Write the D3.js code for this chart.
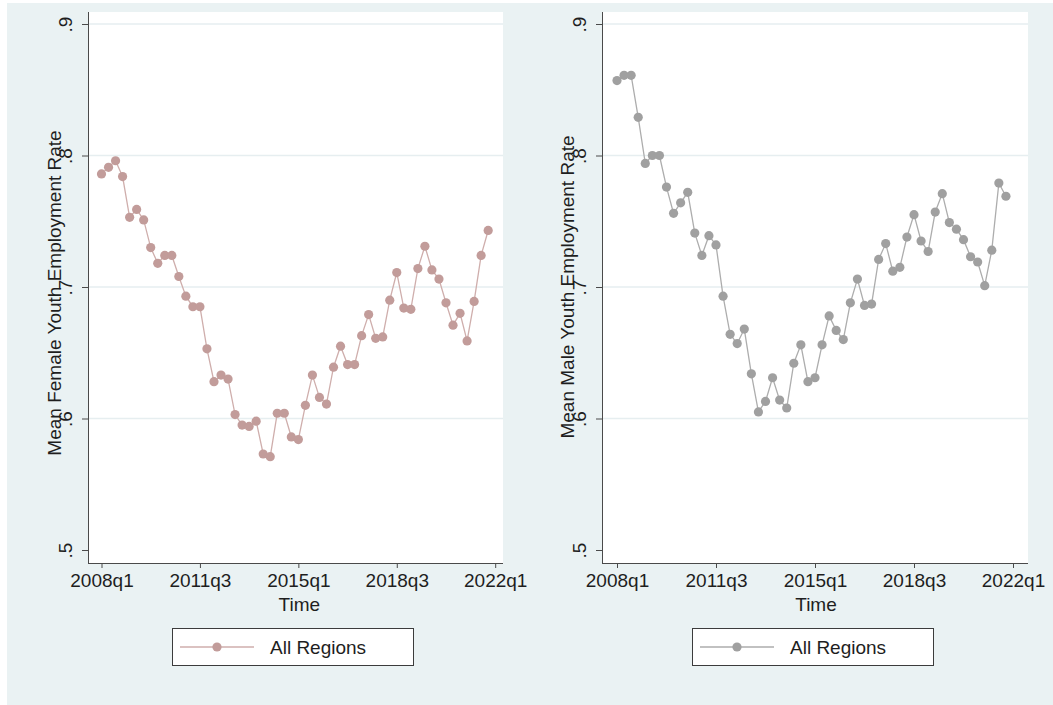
<!DOCTYPE html>
<html>
<head>
<meta charset="utf-8">
<script src="https://cdn.jsdelivr.net/npm/d3@7"></script>
<style>
  html, body { margin: 0; padding: 0; background: #ffffff; }
  svg { display: block; font-family: "Liberation Sans", Arial, sans-serif; }
</style>
</head>
<body>
<script>
// quarterly time index (Stata %tq: 2008q1 = 192)
var firstQuarter = 192;
var xTickValues = [192, 206, 220, 234, 248];
var xTickLabels = ["2008q1", "2011q3", "2015q1", "2018q3", "2022q1"];
var yTickValues = [0.5, 0.6, 0.7, 0.8, 0.9];
var yTickLabels = [".5", ".6", ".7", ".8", ".9"];
var legendLabel = "All Regions";

// mean female youth employment rate, 2008q1 - 2021q4
var femaleRate = [
  0.786, 0.791, 0.796, 0.784, 0.753, 0.759, 0.751, 0.730, 0.718, 0.724,
  0.724, 0.708, 0.693, 0.685, 0.685, 0.653, 0.628, 0.633, 0.630, 0.603,
  0.595, 0.594, 0.598, 0.573, 0.571, 0.604, 0.604, 0.586, 0.584, 0.610,
  0.633, 0.616, 0.611, 0.639, 0.655, 0.641, 0.641, 0.663, 0.679, 0.661,
  0.662, 0.690, 0.711, 0.684, 0.683, 0.714, 0.731, 0.713, 0.706, 0.688,
  0.671, 0.680, 0.659, 0.689, 0.724, 0.743
];

// mean male youth employment rate, 2008q1 - 2021q4
var maleRate = [
  0.857, 0.861, 0.861, 0.829, 0.794, 0.800, 0.800, 0.776, 0.756, 0.764,
  0.772, 0.741, 0.724, 0.739, 0.732, 0.693, 0.664, 0.657, 0.668, 0.634,
  0.605, 0.613, 0.631, 0.614, 0.608, 0.642, 0.656, 0.628, 0.631, 0.656,
  0.678, 0.667, 0.660, 0.688, 0.706, 0.686, 0.687, 0.721, 0.733, 0.712,
  0.715, 0.738, 0.755, 0.735, 0.727, 0.757, 0.771, 0.749, 0.744, 0.736,
  0.723, 0.719, 0.701, 0.728, 0.779, 0.769
];

var width = 1053, height = 705;
var bgColor = "#eaf2f3";
var gridColor = "#e6eef0";
var axisColor = "#4a4a4a";
var textColor = "#1e1e1e";
var fontSize = 19;
var markerR = 4.6;

var svg = d3.select("body").append("svg")
    .attr("width", width)
    .attr("height", height);

// graph region
svg.append("rect")
    .attr("x", 7).attr("y", 3)
    .attr("width", width - 7).attr("height", height - 3)
    .attr("fill", bgColor);

var fmtQuarter = function(q) {
    var i = xTickValues.indexOf(q);
    return i >= 0 ? xTickLabels[i] : "";
};
var fmtRate = function(v) {
    var i = yTickValues.indexOf(v);
    return i >= 0 ? yTickLabels[i] : "";
};

var drawPanel = function(p) {
    var values = p.values;
    var x = d3.scaleLinear()
        .domain([xTickValues[0], xTickValues[xTickValues.length - 1]])
        .range(p.xRange);
    var y = d3.scaleLinear()
        .domain([0.5, 0.9])
        .range([550, 24]);

    var g = svg.append("g");

    // plot region
    g.append("rect")
        .attr("x", p.left).attr("y", 12)
        .attr("width", p.right - p.left).attr("height", 563 - 12)
        .attr("fill", "#ffffff");

    // gridlines
    g.selectAll(".grid")
        .data(yTickValues.slice(1))
        .enter().append("line")
        .attr("x1", p.left + 1).attr("x2", p.right)
        .attr("y1", function(d) { return y(d); })
        .attr("y2", function(d) { return y(d); })
        .attr("stroke", gridColor)
        .attr("stroke-width", 1.5);

    // y axis
    var yAxis = g.append("g")
        .attr("transform", "translate(" + p.left + ",0)")
        .call(d3.axisLeft(y).tickValues(yTickValues).tickFormat(fmtRate)
            .tickSize(6).tickSizeOuter(0));
    yAxis.select(".domain")
        .attr("d", "M0.5,12V563")
        .attr("stroke", axisColor);
    yAxis.selectAll(".tick line").attr("stroke", axisColor);
    yAxis.selectAll(".tick text")
        .attr("transform", "rotate(-90)")
        .attr("x", 0).attr("y", -16).attr("dy", 0)
        .attr("text-anchor", "middle")
        .attr("font-size", fontSize)
        .attr("font-family", "Liberation Sans, Arial, sans-serif")
        .attr("fill", textColor);

    // x axis
    var xAxis = g.append("g")
        .attr("transform", "translate(0,563)")
        .call(d3.axisBottom(x).tickValues(xTickValues).tickFormat(fmtQuarter)
            .tickSize(5).tickSizeOuter(0));
    xAxis.select(".domain")
        .attr("d", "M" + p.left + ",0.5H" + p.right)
        .attr("stroke", axisColor);
    xAxis.selectAll(".tick line").attr("stroke", axisColor);
    xAxis.selectAll(".tick text")
        .attr("y", 24).attr("dy", 0)
        .attr("font-size", fontSize)
        .attr("font-family", "Liberation Sans, Arial, sans-serif")
        .attr("fill", textColor);

    // axis titles
    g.append("text")
        .attr("x", (x(xTickValues[0]) + x(xTickValues[4])) / 2 + 1)
        .attr("y", 611)
        .attr("text-anchor", "middle")
        .attr("font-size", fontSize)
        .attr("fill", textColor)
        .text("Time");
    g.append("text")
        .attr("transform", "translate(" + p.titleX + "," + p.titleY + ") rotate(-90)")
        .attr("text-anchor", "middle")
        .attr("font-size", fontSize)
        .attr("fill", textColor)
        .text(p.yTitle);

    // series
    var line = d3.line()
        .x(function(d, i) { return x(firstQuarter + i); })
        .y(function(d) { return y(d); });
    g.append("path")
        .datum(values)
        .attr("d", line)
        .attr("fill", "none")
        .attr("stroke", p.lineColor)
        .attr("stroke-width", 1.3);
    g.selectAll(".pt")
        .data(values)
        .enter().append("circle")
        .attr("cx", function(d, i) { return x(firstQuarter + i); })
        .attr("cy", function(d) { return y(d); })
        .attr("r", markerR)
        .attr("fill", p.markerColor);

    // legend
    var lg = g.append("g");
    lg.append("rect")
        .attr("x", p.legendX + 0.5).attr("y", 628.5)
        .attr("width", 241).attr("height", 37)
        .attr("fill", "#ffffff")
        .attr("stroke", "#3c3c3c");
    lg.append("line")
        .attr("x1", p.legendX + 8).attr("x2", p.legendX + 82)
        .attr("y1", 647).attr("y2", 647)
        .attr("stroke", p.lineColor)
        .attr("stroke-width", 1.3);
    lg.append("circle")
        .attr("cx", p.legendX + 45).attr("cy", 647)
        .attr("r", markerR)
        .attr("fill", p.markerColor);
    lg.append("text")
        .attr("x", p.legendX + 98).attr("y", 654)
        .attr("font-size", fontSize)
        .attr("fill", textColor)
        .text(legendLabel);
};

drawPanel({
    values: femaleRate,
    left: 88, right: 503,
    xRange: [101.5, 495.2],
    yTitle: "Mean Female Youth Employment Rate",
    titleX: 61, titleY: 293,
    lineColor: "#cfaeac",
    markerColor: "#c29c9a",
    legendX: 172
});

drawPanel({
    values: maleRate,
    left: 602, right: 1028,
    xRange: [617, 1013],
    yTitle: "Mean Male Youth Employment Rate",
    titleX: 574, titleY: 287,
    lineColor: "#adadad",
    markerColor: "#a0a0a0",
    legendX: 692
});
</script>
</body>
</html>
